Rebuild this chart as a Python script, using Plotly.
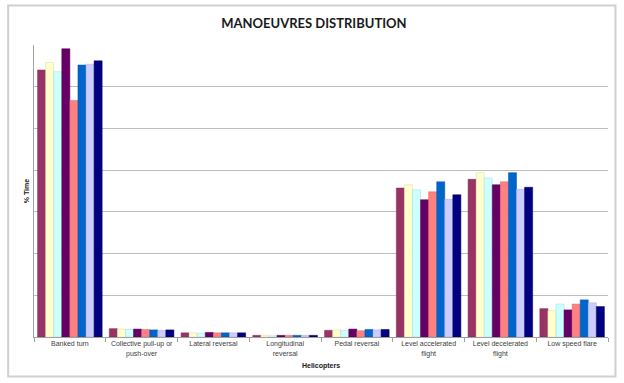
import plotly.graph_objects as go

# Manoeuvre categories (x axis)
manoeuvres = [
    "Banked turn",
    "Collective pull-up or<br>push-over",
    "Lateral reversal",
    "Longitudinal<br>reversal",
    "Pedal reversal",
    "Level accelerated<br>flight",
    "Level decelerated<br>flight",
    "Low speed flare",
]

# Share of flight time (%) per helicopter for each manoeuvre
heli_1 = [64.0, 2.0, 1.0, 0.4, 1.6, 35.7, 37.8, 6.8]
heli_2 = [65.8, 1.9, 1.0, 0.4, 1.7, 36.5, 39.4, 6.3]
heli_3 = [63.6, 1.8, 0.9, 0.3, 1.6, 35.3, 38.1, 7.9]
heli_4 = [69.1, 1.9, 1.1, 0.4, 1.9, 32.9, 36.5, 6.5]
heli_5 = [56.7, 1.8, 1.0, 0.4, 1.5, 34.8, 37.2, 7.9]
heli_6 = [65.2, 1.7, 1.0, 0.4, 1.8, 37.2, 39.4, 8.9]
heli_7 = [65.4, 1.6, 1.0, 0.4, 1.7, 33.0, 35.4, 8.2]
heli_8 = [66.2, 1.7, 1.0, 0.4, 1.8, 34.1, 35.9, 7.3]

series = [heli_1, heli_2, heli_3, heli_4, heli_5, heli_6, heli_7, heli_8]
series_names = ["H1", "H2", "H3", "H4", "H5", "H6", "H7", "H8"]
colors = ["#993366", "#FFFFCC", "#CCFFFF", "#660066",
          "#FF8080", "#0066CC", "#CCCCFF", "#000080"]
edges = ["#7a2850", "#d8d8a8", "#a8d8d8", "#4d004d",
         "#d86a6a", "#0052a3", "#a8a8d8", "#000060"]

fig = go.Figure()
for name, vals, col, edge in zip(series_names, series, colors, edges):
    fig.add_trace(go.Bar(
        x=manoeuvres, y=vals, name=name,
        marker=dict(color=col, line=dict(width=0.5, color=edge)),
        showlegend=False,
    ))

fig.update_layout(
    width=624, height=383,
    margin=dict(l=34, r=16, t=45, b=46),
    paper_bgcolor="white", plot_bgcolor="white",
    barmode="group", bargap=0.1, bargroupgap=0.0,
    title=dict(
        text="<b>MANOEUVRES DISTRIBUTION</b>",
        x=0.503, xanchor="center", y=0.94, yanchor="middle",
        font=dict(family="Lato, Open Sans, sans-serif", size=13, color="#1a1a1a"),
    ),
    font=dict(family="Liberation Sans, Arial, sans-serif", size=7, color="#404040"),
    xaxis=dict(
        title=dict(text="<b>Helicopters</b>", standoff=6,
                   font=dict(size=7, color="#202020")),
        tickson="boundaries", ticks="outside", ticklen=4, tickcolor="#a0a0a0",
        showline=True, linecolor="#a0a0a0", linewidth=1,
        tickfont=dict(size=7, color="#404040"),
        showgrid=False,
    ),
    yaxis=dict(
        title=dict(text="<b>% Time</b>", standoff=2,
                   font=dict(size=7, color="#202020")),
        range=[0, 70], dtick=10,
        showticklabels=False,
        showgrid=True, gridcolor="#bfbfbf", gridwidth=1,
        showline=True, linecolor="#a0a0a0", linewidth=1,
        zeroline=False,
    ),
)

# Light grey frame around the chart area
fig.add_shape(type="rect", xref="paper", yref="paper",
              x0=-0.045, x1=1.013, y0=-0.135, y1=1.135,
              line=dict(color="#d0d0d0", width=2), fillcolor="rgba(0,0,0,0)",
              layer="below")

fig.write_html("out.html")
